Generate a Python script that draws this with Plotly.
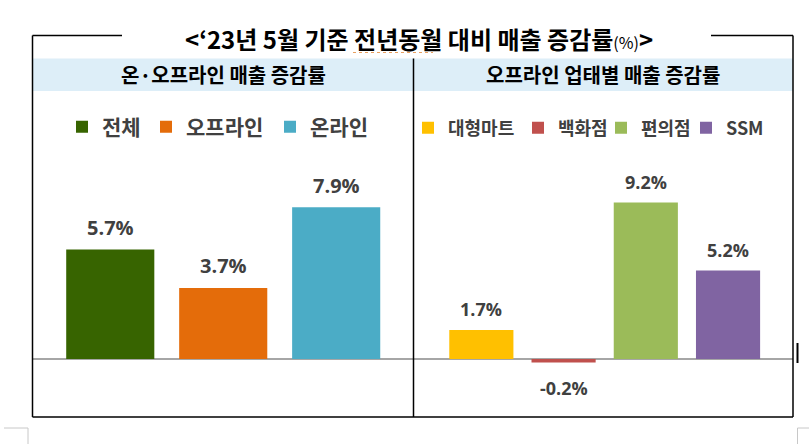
import plotly.graph_objects as go

# ---------------- data ----------------
left_cats = ["전체", "오프라인", "온라인"]
left_vals = [5.7, 3.7, 7.9]
left_colors = ["#376400", "#E46C0A", "#4BACC6"]

right_cats = ["대형마트", "백화점", "편의점", "SSM"]
right_vals = [1.7, -0.2, 9.2, 5.2]
right_colors = ["#FFC000", "#C0504D", "#9BBB59", "#8064A2"]

title_main = "&lt;‘23년 5월 기준 전년동월 대비 매출 증감률"
title_unit = "(%)"
left_header = "온·오프라인 매출 증감률"
right_header = "오프라인 업태별 매출 증감률"

# ---------------- geometry helpers ----------------
W, H = 809, 444
def px(x):
    return x / W
def py(y):
    return 1 - y / H

KR = "Noto Sans CJK KR"
NUM = "Open Sans"
GREY = "#404040"

fig = go.Figure()

# left panel bars
for i, (c, v, col) in enumerate(zip(left_cats, left_vals, left_colors)):
    fig.add_trace(go.Bar(
        x=[c], y=[v], name=c, width=[0.78],
        marker=dict(color=col, line=dict(width=0)),
        xaxis="x", yaxis="y",
        legend="legend" if i == 0 else f"legend{i + 1}",
        hoverinfo="skip",
    ))

# right panel bars
for j, (c, v, col) in enumerate(zip(right_cats, right_vals, right_colors)):
    fig.add_trace(go.Bar(
        x=[c], y=[v], name=c, width=[0.78],
        marker=dict(color=col, line=dict(width=0)),
        xaxis="x2", yaxis="y2",
        legend=f"legend{len(left_cats) + j + 1}",
        hoverinfo="skip",
    ))

# value labels
for c, v in zip(left_cats, left_vals):
    fig.add_annotation(x=c, y=v, xref="x", yref="y", text=f"{v:.1f}%",
                       showarrow=False, yshift=22 if v >= 0 else -26,
                       font=dict(family=NUM, size=20, color=GREY, weight=700))
for c, v in zip(right_cats, right_vals):
    fig.add_annotation(x=c, y=v, xref="x2", yref="y2", text=f"{v:.1f}%",
                       showarrow=False, yshift=21 if v >= 0 else -26,
                       font=dict(family=NUM, size=18, color=GREY, weight=700))

# title and headers
fig.add_annotation(x=px(419), y=py(38), xref="paper", yref="paper",
                   text=title_main + f"<span style='font-size:16px;font-weight:normal'>{title_unit}</span>&gt;",
                   showarrow=False, xanchor="center", yanchor="middle",
                   font=dict(family=KR, size=24, color="#000000", weight=700))
fig.add_annotation(x=px(223), y=py(75), xref="paper", yref="paper",
                   text=left_header, showarrow=False, xanchor="center", yanchor="middle",
                   font=dict(family=KR, size=20, color="#000000", weight=700))
fig.add_annotation(x=px(603), y=py(75), xref="paper", yref="paper",
                   text=right_header, showarrow=False, xanchor="center", yanchor="middle",
                   font=dict(family=KR, size=20, color="#000000", weight=700))

# shapes: header band, border, divider, page marks
line_k = dict(color="#000000", width=1.5)
shapes = [
    dict(type="rect", xref="paper", yref="paper", x0=px(33), x1=px(793), y0=py(58.5), y1=py(91),
         fillcolor="#DDEEF8", line=dict(width=0), layer="below"),
    dict(type="line", xref="paper", yref="paper", x0=px(32.5), x1=px(122), y0=py(35.5), y1=py(35.5), line=line_k),
    dict(type="line", xref="paper", yref="paper", x0=px(711), x1=px(793), y0=py(35.5), y1=py(35.5), line=line_k),
    dict(type="line", xref="paper", yref="paper", x0=px(32.5), x1=px(32.5), y0=py(35.5), y1=py(417), line=line_k),
    dict(type="line", xref="paper", yref="paper", x0=px(793), x1=px(793), y0=py(35.5), y1=py(417), line=line_k),
    dict(type="line", xref="paper", yref="paper", x0=px(32.5), x1=px(793), y0=py(417), y1=py(417), line=line_k),
    dict(type="line", xref="paper", yref="paper", x0=px(413.5), x1=px(413.5), y0=py(58.5), y1=py(417), line=line_k),
    # spell-check squiggle under the title word
    dict(type="line", xref="paper", yref="paper", x0=px(353), x1=px(433), y0=py(52.5), y1=py(52.5),
         line=dict(color="#E8A060", width=1, dash="dot")),
    # page corner marks and cursor
    dict(type="line", xref="paper", yref="paper", x0=px(4), x1=px(28), y0=py(428), y1=py(428),
         line=dict(color="#C8C8C8", width=1)),
    dict(type="line", xref="paper", yref="paper", x0=px(28), x1=px(28), y0=py(428), y1=py(444),
         line=dict(color="#C8C8C8", width=1)),
    dict(type="line", xref="paper", yref="paper", x0=px(797.5), x1=px(809), y0=py(428), y1=py(428),
         line=dict(color="#C8C8C8", width=1)),
    dict(type="line", xref="paper", yref="paper", x0=px(797.5), x1=px(797.5), y0=py(428), y1=py(444),
         line=dict(color="#C8C8C8", width=1)),
    dict(type="line", xref="paper", yref="paper", x0=px(797.5), x1=px(797.5), y0=py(343), y1=py(363),
         line=dict(color="#000000", width=2)),
]

# legends, one per entry so each sits where the reference puts it
left_leg_x = [62, 146, 270]
right_leg_x = [408, 518, 601, 686]
legends = {}
for i, lx in enumerate(left_leg_x):
    key = "legend" if i == 0 else f"legend{i + 1}"
    legends[key] = dict(x=px(lx), y=py(127), xanchor="left", yanchor="middle",
                        orientation="h", bgcolor="rgba(0,0,0,0)", borderwidth=0,
                        font=dict(family=KR, size=21, color=GREY, weight=700))
for j, lx in enumerate(right_leg_x):
    key = f"legend{len(left_leg_x) + j + 1}"
    legends[key] = dict(x=px(lx), y=py(128), xanchor="left", yanchor="middle",
                        orientation="h", bgcolor="rgba(0,0,0,0)", borderwidth=0,
                        font=dict(family=KR, size=18, color=GREY, weight=700))

y_dom = [py(417), py(150)]
axis_common = dict(showgrid=False, showticklabels=False, ticks="", showline=False, fixedrange=True)

fig.update_layout(
    width=W, height=H,
    margin=dict(l=0, r=0, t=0, b=0),
    paper_bgcolor="#FFFFFF", plot_bgcolor="rgba(0,0,0,0)",
    barmode="overlay",
    showlegend=True,
    xaxis=dict(domain=[px(33), px(413)], range=[-0.684, 2.68], type="category", zeroline=False, **axis_common),
    yaxis=dict(domain=y_dom, range=[-3.02, 10.885], zeroline=True, zerolinecolor="#A6A6A6",
               zerolinewidth=1.5, **axis_common),
    xaxis2=dict(domain=[px(414), px(793)], range=[-0.819, 3.79], type="category", zeroline=False,
                anchor="y2", **axis_common),
    yaxis2=dict(domain=y_dom, range=[-3.41, 12.29], zeroline=True, zerolinecolor="#A6A6A6",
                zerolinewidth=1.5, anchor="x2", **axis_common),
    shapes=shapes,
    **legends,
)

fig.write_html("out.html")
